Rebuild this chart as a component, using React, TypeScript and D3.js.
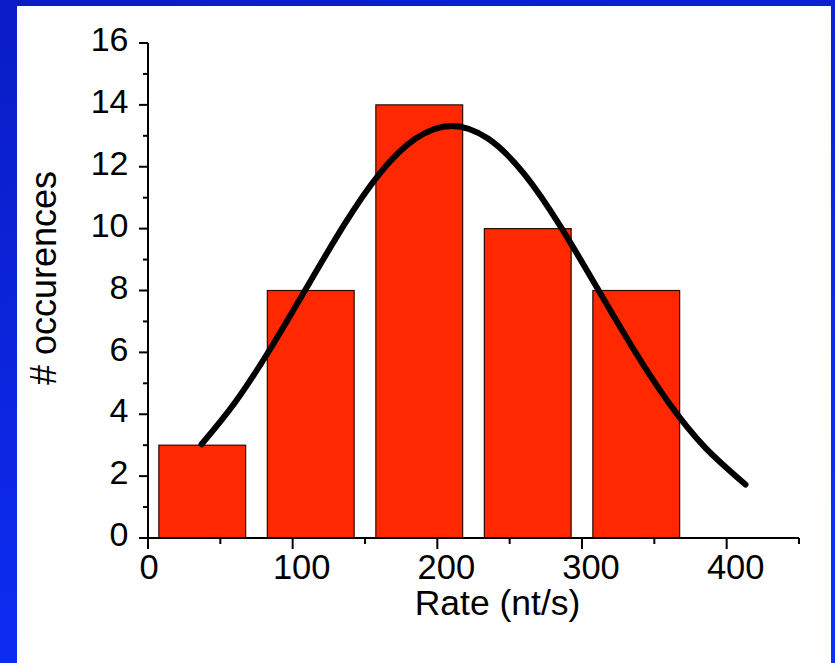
import React from "react";
import * as d3 from "d3";

// Histogram of rates (bin centers, counts)
const binCenters = [37.5, 112.5, 187.5, 262.5, 337.5];
const counts = [3, 8, 14, 10, 8];
const barWidthUnits = 60;

// Gaussian fit curve
const curveX = [37, 60, 85, 110, 135, 160, 185, 210, 235, 260, 285, 310, 335, 360, 385, 413];
const curveY = [3.03, 4.37, 6.15, 8.12, 10.08, 11.77, 12.91, 13.32, 12.91, 11.77, 10.08, 8.12, 6.15, 4.37, 2.93, 1.73];

const xMajorTicks = [0, 100, 200, 300, 400];
const xMinorTicks = [50, 150, 250, 350, 450];
const yMajorTicks = [0, 2, 4, 6, 8, 10, 12, 14, 16];
const yMinorTicks = [1, 3, 5, 7, 9, 11, 13, 15];

const xLabel = "Rate (nt/s)";
const yLabel = "# occurences";

export default function App() {
  const W = 835;
  const H = 663;
  const x = d3.scaleLinear().domain([0, 450]).range([148, 799]);
  const y = d3.scaleLinear().domain([0, 16]).range([538, 43]);
  const line = d3
    .line<number>()
    .x((_, i) => x(curveX[i]))
    .y((d) => y(d))
    .curve(d3.curveNatural);
  const font = "'Liberation Sans', Arial, Helvetica, sans-serif";

  return (
    <div style={{ position: "fixed", left: 0, top: 0 }}>
      <svg width={W} height={H} style={{ display: "block" }}>
        <defs>
          <linearGradient id="bg" x1="0" y1="0" x2="0.3" y2="1">
            <stop offset="0" stopColor="#0a1cc4" />
            <stop offset="1" stopColor="#0d2ef6" />
          </linearGradient>
        </defs>
        <rect x={0} y={0} width={W} height={H} fill="url(#bg)" />
        <rect x={17} y={6} width={814} height={H - 6} fill="#ffffff" />

        {/* bars */}
        {counts.map((c, i) => (
          <rect
            key={i}
            x={x(binCenters[i] - barWidthUnits / 2)}
            y={y(c)}
            width={x(barWidthUnits) - x(0)}
            height={y(0) - y(c)}
            fill="#ff2800"
            stroke="#2a0a00"
            strokeWidth={1.2}
          />
        ))}

        {/* axes */}
        <line x1={x(0)} x2={x(450)} y1={y(0)} y2={y(0)} stroke="#000" strokeWidth={2} />
        <line x1={x(0)} x2={x(0)} y1={y(0) + 1} y2={y(16)} stroke="#000" strokeWidth={2} />
        {xMajorTicks.map((t) => (
          <g key={"xM" + t}>
            <line x1={x(t)} x2={x(t)} y1={y(0)} y2={y(0) + 11} stroke="#000" strokeWidth={2} />
            <text
              x={x(t) + (t === 0 ? 1 : 9)}
              y={579}
              textAnchor="middle"
              fontFamily={font}
              fontSize={34.5}
              fill="#000"
            >
              {t}
            </text>
          </g>
        ))}
        {xMinorTicks.map((t) => (
          <line key={"xm" + t} x1={x(t)} x2={x(t)} y1={y(0)} y2={y(0) + 6} stroke="#000" strokeWidth={2} />
        ))}
        {yMajorTicks.map((t) => (
          <g key={"yM" + t}>
            <line x1={x(0) - 9} x2={x(0)} y1={y(t)} y2={y(t)} stroke="#000" strokeWidth={2} />
            <text
              x={128.5}
              y={y(t) - 4}
              dy="0.36em"
              textAnchor="end"
              fontFamily={font}
              fontSize={34}
              fill="#000"
            >
              {t}
            </text>
          </g>
        ))}
        {yMinorTicks.map((t) => (
          <line key={"ym" + t} x1={x(0) - 5} x2={x(0)} y1={y(t)} y2={y(t)} stroke="#000" strokeWidth={2} />
        ))}

        {/* fit curve */}
        <path
          d={line(curveY) || ""}
          fill="none"
          stroke="#000"
          strokeWidth={6}
          strokeLinecap="round"
          strokeLinejoin="round"
        />

        {/* axis titles */}
        <text x={497.5} y={615} textAnchor="middle" fontFamily={font} fontSize={35.5} fill="#000">
          {xLabel}
        </text>
        <text
          transform="translate(56,278) rotate(-90)"
          textAnchor="middle"
          fontFamily={font}
          fontSize={36}
          fill="#000"
        >
          {yLabel}
        </text>
      </svg>
    </div>
  );
}
